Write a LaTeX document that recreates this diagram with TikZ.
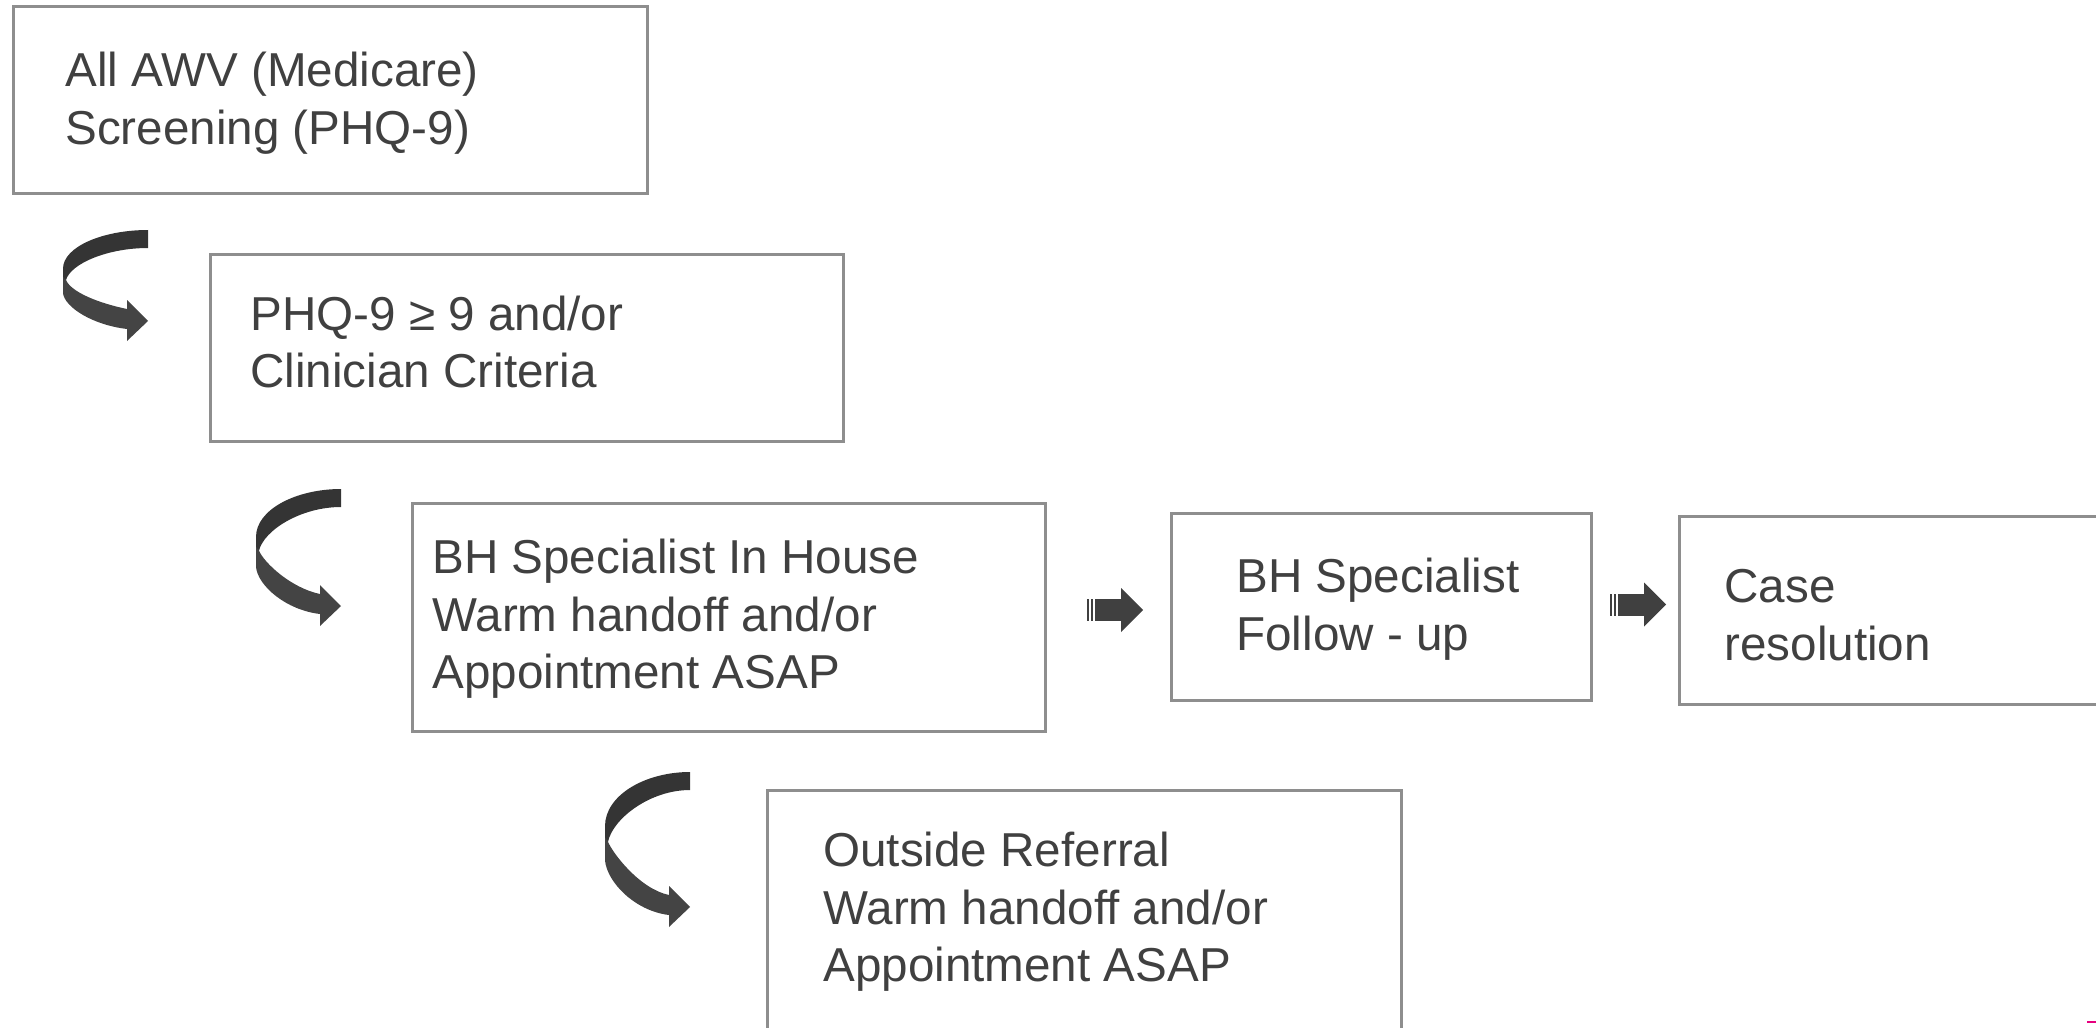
\documentclass[tikz,border=0pt]{standalone}
\usepackage{fontspec}
\setmainfont{Liberation Sans}
\usetikzlibrary{fit}
\definecolor{boxgray}{HTML}{8E8E8E}
\definecolor{txtgray}{HTML}{404040}
\definecolor{arrA}{HTML}{343434}
\definecolor{arrB}{HTML}{444444}
\definecolor{pinkbar}{HTML}{E6007E}
\newcommand\CurvArrow[3]{%
\begin{scope}[shift={(#1,#2)}]
\fill[arrB] (3,{0.45*#3}) -- (0,{0.40*#3}) -- (0,{0.57*#3})
  .. controls (2,{0.57*#3+0.4*(0.43*#3-12)}) and (30,{#3-16}) .. (64,{#3-12})
  -- (64,#3) -- (85,{#3-20}) -- (64,{#3-41}) -- (64,{#3-32})
  .. controls (35,{#3-38}) and (8,{0.45*#3+12}) .. cycle;
\fill[arrA] (85,0) .. controls (40,0) and (0,{0.15*#3}) .. (0,{0.35*#3})
  -- (0,{0.42*#3}) -- (3,{0.45*#3}) .. controls (8,{0.3*#3}) and (45,18) .. (85,18) -- cycle;
\end{scope}}
\newcommand\BlkArrow[2]{%
\begin{scope}[shift={(#1,#2)}]
\fill[txtgray] (0,-11) rectangle (2,11);
\fill[txtgray] (4,-11) rectangle (6,11);
\fill[txtgray] (8,-11) rectangle (34,11);
\fill[txtgray] (34,-22) -- (56,0) -- (34,22) -- cycle;
\end{scope}}
\begin{document}
\begin{tikzpicture}[x=0.5pt,y=-0.5pt,
  box/.style={draw=boxgray, line width=1.5pt, inner sep=0pt},
  txt/.style={anchor=west, align=left, text=txtgray, inner sep=0pt,
    font=\fontsize{23.8pt}{28.75pt}\selectfont}]
\useasboundingbox (0,0) rectangle (2096,1027);
\clip (0,0) rectangle (2096,1027);
% boxes
\node[box, fit={(13,7) (647,194)}] (b1) {};
\node[box, fit={(210,254) (843,441)}] (b2) {};
\node[box, fit={(412,503) (1045,731)}] (b3) {};
\node[box, fit={(1171,513) (1591,700)}] (b4) {};
\node[box, fit={(1679,516) (2130,704)}] (b5) {};
\node[box, fit={(767,790) (1401,1040)}] (b6) {};
% texts
\node[txt] (t1) at (65,103) {All AWV (Medicare)\\Screening (PHQ-9)};
\node[txt] (t2) at (250,342) {PHQ-9 ≥ 9 and/or\\Clinician Criteria};
\node[txt] (t3) at (432,619) {BH Specialist In House\\Warm handoff and/or\\Appointment ASAP};
\node[txt] (t4) at (1236,609) {BH Specialist\\Follow - up};
\node[txt] (t5) at (1724,615) {Case\\resolution};
\node[txt] (t6) at (823,912) {Outside Referral\\Warm handoff and/or\\Appointment ASAP};
% curved arrows
\CurvArrow{63}{230}{111}
\CurvArrow{256}{489}{137}
\CurvArrow{605}{772}{155}
% block arrows
\BlkArrow{1087}{610}
\BlkArrow{1610}{604.5}
% small mark
\fill[pinkbar] (2087,1021) rectangle (2096,1023);
\end{tikzpicture}
\end{document}
